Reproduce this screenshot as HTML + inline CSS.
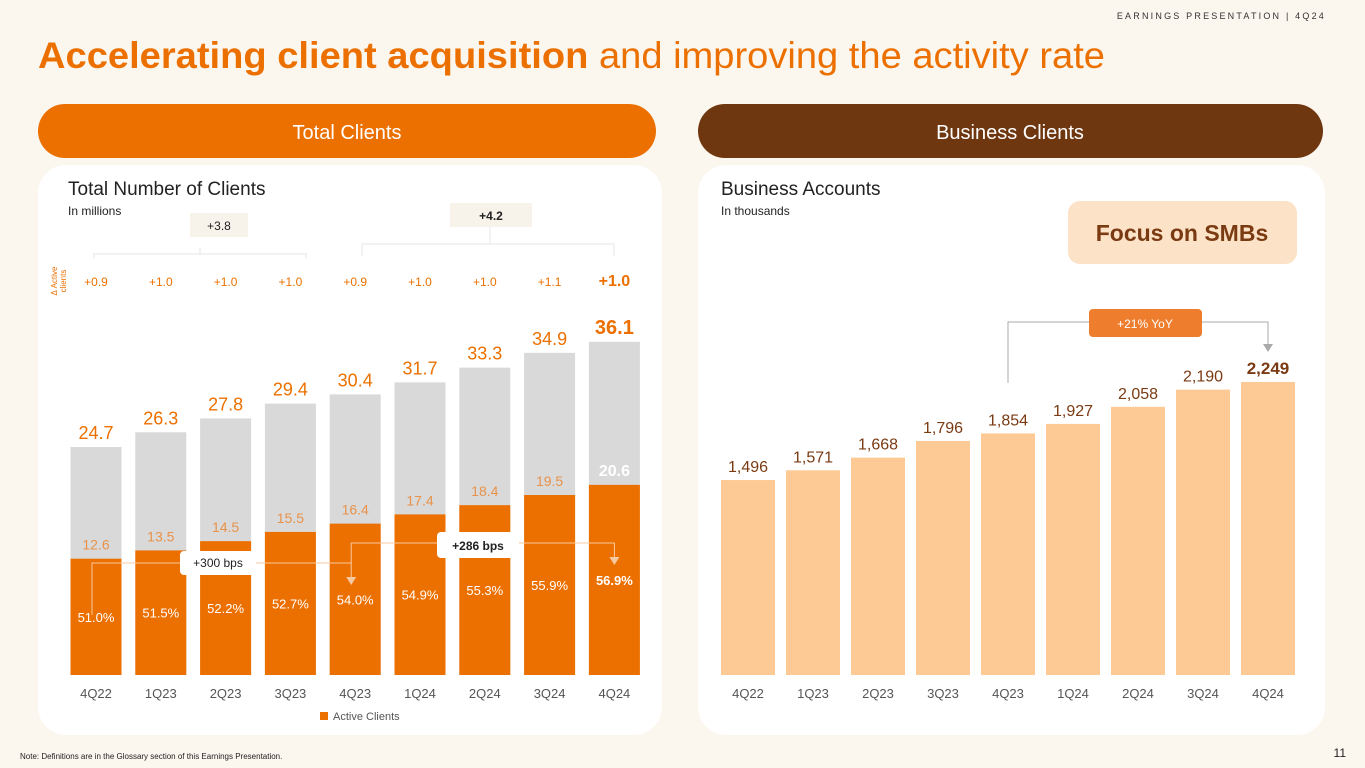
<!DOCTYPE html>
<html><head><meta charset="utf-8"><style>
html,body{margin:0;padding:0;background:#fbf6ee;}
svg{display:block;font-family:"Liberation Sans",sans-serif;}
</style></head><body>
<svg id="s" width="1365" height="768" viewBox="0 0 1365 768">
<rect width="1365" height="768" fill="#fbf6ee"/>
<text x="1326" y="19" text-anchor="end" font-size="9" letter-spacing="2.2" fill="#333">EARNINGS PRESENTATION | 4Q24</text>
<text x="38" y="68" font-size="37" fill="#ec7000" textLength="1067" lengthAdjust="spacingAndGlyphs"><tspan font-weight="bold">Accelerating client acquisition</tspan> and improving the activity rate</text>
<rect x="38" y="104" width="618" height="54" rx="27" fill="#ec7000"/>
<text x="347" y="139" text-anchor="middle" font-size="20" fill="#fff">Total Clients</text>
<rect x="698" y="104" width="625" height="54" rx="27" fill="#6e3710"/>
<text x="1010" y="139" text-anchor="middle" font-size="20" fill="#fff">Business Clients</text>
<rect x="38" y="165" width="624" height="570" rx="28" fill="#fff"/>
<rect x="698" y="165" width="627" height="570" rx="28" fill="#fff"/>
<text x="68" y="195" font-size="19" fill="#222">Total Number of Clients</text>
<text x="68" y="215" font-size="12" fill="#222">In millions</text>
<text x="721" y="195" font-size="19" fill="#222">Business Accounts</text>
<text x="721" y="215" font-size="12" fill="#222">In thousands</text>
<rect x="1068" y="201" width="229" height="63" rx="12" fill="#fce3c8"/>
<text x="1182" y="241" text-anchor="middle" font-size="23" font-weight="bold" fill="#7a3a12">Focus on SMBs</text>
<path d="M94 258V254H306V258M200 254V248M362 256V244H614V256M490 244V227" stroke="#e4e4e4" fill="none"/>
<rect x="190" y="213" width="58" height="24" fill="#f7f2ea"/>
<text x="219" y="230" text-anchor="middle" font-size="12" fill="#222">+3.8</text>
<rect x="450" y="203" width="82" height="24" fill="#f7f2ea"/>
<text x="491" y="220" text-anchor="middle" font-size="12" font-weight="bold" fill="#222">+4.2</text>
<text transform="translate(60,281) rotate(-90)" text-anchor="middle" font-size="8" fill="#ec7000"><tspan x="0" dy="-3">Δ Active</tspan><tspan x="0" dy="9">clients</tspan></text>
<g id="left"></g><g id="right"></g>
<rect x="320" y="712" width="8" height="8" fill="#ec7000"/>
<text x="333" y="720" font-size="11" fill="#555">Active Clients</text>
<text x="20" y="759" font-size="8" fill="#222">Note: Definitions are in the Glossary section of this Earnings Presentation.</text>
<text x="1346" y="757" text-anchor="end" font-size="12" fill="#222">11</text>
</svg>
<script>
const quarters=["4Q22","1Q23","2Q23","3Q23","4Q23","1Q24","2Q24","3Q24","4Q24"];
const totalClients=[24.7,26.3,27.8,29.4,30.4,31.7,33.3,34.9,36.1];
const activeClients=[12.6,13.5,14.5,15.5,16.4,17.4,18.4,19.5,20.6];
const activityRate=["51.0%","51.5%","52.2%","52.7%","54.0%","54.9%","55.3%","55.9%","56.9%"];
const deltaActive=["+0.9","+1.0","+1.0","+1.0","+0.9","+1.0","+1.0","+1.1","+1.0"];
const businessAccounts=[1496,1571,1668,1796,1854,1927,2058,2190,2249];
const NS="http://www.w3.org/2000/svg";
function mk(p,t,a,txt){const e=document.createElementNS(NS,t);for(const k in a)e.setAttribute(k,a[k]);if(txt!==undefined)e.textContent=txt;p.appendChild(e);return e;}
const base=675;
const lx=i=>96+i*64.8, ly=v=>base-v*9.23;
const rx=i=>748+i*65, ry=v=>base-v*0.1303;
const L=document.getElementById('left'),R=document.getElementById('right');
quarters.forEach((q,i)=>{
  const last=i===quarters.length-1;
  const w=51,x=lx(i)-w/2;
  let e=mk(L,'rect',{x:x,y:ly(totalClients[i]),width:w,height:base-ly(totalClients[i]),fill:'#d9d9d9'});
  
  e=mk(L,'rect',{x:x,y:ly(activeClients[i]),width:w,height:base-ly(activeClients[i]),fill:'#ec7000'});
  
  e=mk(L,'text',{x:lx(i),y:ly(totalClients[i])-8,'text-anchor':'middle','font-size':last?20:18,'font-weight':last?'bold':'normal',fill:'#ec7000'},totalClients[i].toFixed(1));
  
  e=mk(L,'text',{x:lx(i),y:ly(activeClients[i])-9,'text-anchor':'middle','font-size':last?16:14,'font-weight':last?'bold':'normal',fill:last?'#fff':'#e8924a'},activeClients[i].toFixed(1));
  
  e=mk(L,'text',{x:lx(i),y:(ly(activeClients[i])+base)/2+5,'text-anchor':'middle','font-size':13,'font-weight':last?'bold':'normal',fill:'#fff'},activityRate[i]);
  
  e=mk(L,'text',{x:lx(i),y:286,'text-anchor':'middle','font-size':last?16:12,'font-weight':last?'bold':'normal',fill:'#ec7000'},deltaActive[i]);
  
  e=mk(L,'text',{x:lx(i),y:698,'text-anchor':'middle','font-size':13,fill:'#555'},q);
  
  e=mk(R,'rect',{x:rx(i)-27,y:ry(businessAccounts[i]),width:54,height:base-ry(businessAccounts[i]),fill:'#fdc994'});
  
  e=mk(R,'text',{x:rx(i),y:ry(businessAccounts[i])-8,'text-anchor':'middle','font-size':last?17:16,'font-weight':last?'bold':'normal',fill:'#7a3a12'},businessAccounts[i].toLocaleString('en-US'));
  
  e=mk(R,'text',{x:rx(i),y:698,'text-anchor':'middle','font-size':13,fill:'#555'},q);
  
});
mk(L,'path',{d:`M${lx(0)-4} 615V563H${lx(4)-4}V577`,stroke:'#f7c9a0',fill:'none'});
mk(L,'path',{d:`M${lx(4)-9} 577l5 8l5 -8z`,fill:'#f7c9a0'});
mk(L,'path',{d:`M${lx(4)-4} 563V543H${lx(8)}V557`,stroke:'#f7c9a0',fill:'none'});
mk(L,'path',{d:`M${lx(8)-5} 557l5 8l5 -8z`,fill:'#f7c9a0'});
let b=mk(L,'rect',{x:180,y:551,width:76,height:24,rx:4,fill:'#fff'});

b=mk(L,'text',{x:218,y:567,'text-anchor':'middle','font-size':12,fill:'#222'},'+300 bps');

b=mk(L,'rect',{x:437,y:532,width:82,height:26,rx:4,fill:'#fff'});

b=mk(L,'text',{x:478,y:550,'text-anchor':'middle','font-size':12,'font-weight':'bold',fill:'#222'},'+286 bps');

mk(R,'path',{d:`M${rx(4)} 383V322H${rx(8)}V345`,stroke:'#aaa',fill:'none'});
mk(R,'path',{d:`M${rx(8)-5} 344l5 8l5 -8z`,fill:'#aaa'});
b=mk(R,'rect',{x:1089,y:309,width:113,height:28,rx:4,fill:'#ee7e2e'});

b=mk(R,'text',{x:1145,y:328,'text-anchor':'middle','font-size':12,fill:'#fff'},'+21% YoY');

</script>
</body></html>
